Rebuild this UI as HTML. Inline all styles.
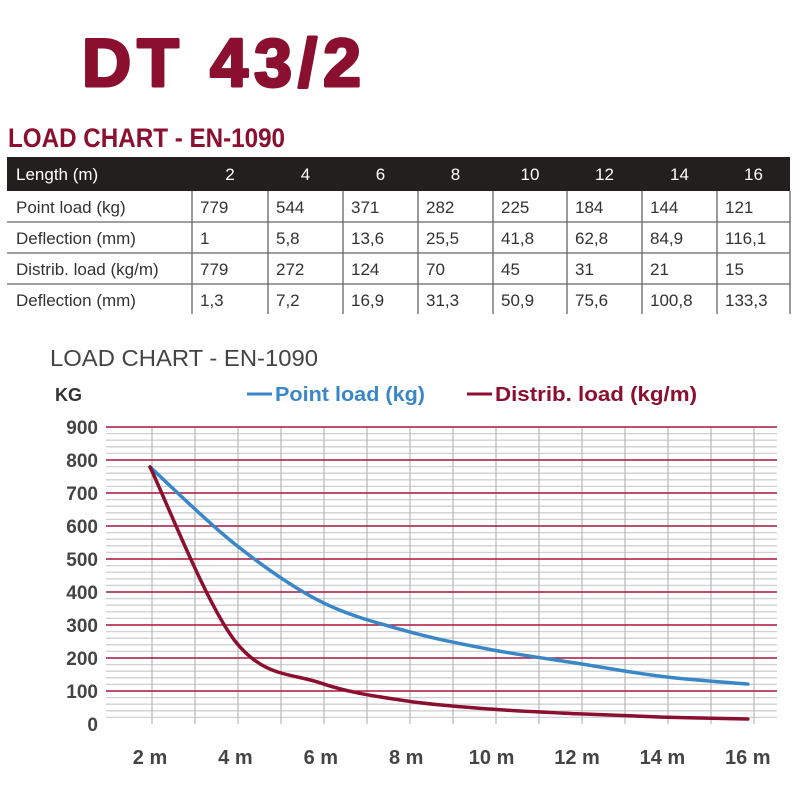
<!DOCTYPE html>
<html><head><meta charset="utf-8"><style>
html,body{margin:0;padding:0;background:#fff}
svg{display:block}
text{font-family:"Liberation Sans",sans-serif}
</style></head><body>
<svg id="s" width="800" height="800" viewBox="0 0 800 800" xmlns="http://www.w3.org/2000/svg">
<rect width="800" height="800" fill="#fff"/>
<text x="82" y="86" font-size="68" font-weight="bold" fill="#8b0f2e" stroke="#8b0f2e" stroke-width="3" stroke-linejoin="round" textLength="279" lengthAdjust="spacing">DT 43/2</text>
<text x="8" y="147" font-size="27" font-weight="bold" fill="#8b0f2e" textLength="277" lengthAdjust="spacingAndGlyphs">LOAD CHART - EN-1090</text>
<rect x="7" y="157" width="783" height="34" fill="#231f1e"/>
<g id="tbl"></g>
<text x="50" y="366" font-size="23" fill="#444" textLength="268" lengthAdjust="spacingAndGlyphs">LOAD CHART - EN-1090</text>
<text x="55" y="401" font-size="18" font-weight="bold" fill="#333">KG</text>
<line x1="247" y1="394" x2="272" y2="394" stroke="#3a87c8" stroke-width="3"/>
<text x="275" y="401" font-size="20" font-weight="bold" fill="#3a87c8" textLength="150" lengthAdjust="spacingAndGlyphs">Point load (kg)</text>
<line x1="467" y1="394" x2="492" y2="394" stroke="#8b0f2e" stroke-width="3"/>
<text x="495" y="401" font-size="20" font-weight="bold" fill="#8b0f2e" textLength="202" lengthAdjust="spacingAndGlyphs">Distrib. load (kg/m)</text>
<g id="grid"></g>
<path id="pb" fill="none" stroke="#3a87c8" stroke-width="3.5" stroke-linecap="round"/>
<path id="pr" fill="none" stroke="#8b0f2e" stroke-width="3.5" stroke-linecap="round"/>
</svg>
<script>
var NS="http://www.w3.org/2000/svg";
function el(p,t,a,txt){var e=document.createElementNS(NS,t);for(var k in a)e.setAttribute(k,a[k]);if(txt!=null)e.textContent=txt;p.appendChild(e);return e;}
var tb=document.getElementById("tbl");
var cols=[7,192,268,343,418,493,567,642,717,790];
var hdr=["Length (m)","2","4","6","8","10","12","14","16"];
el(tb,"text",{x:16,y:180,"font-size":17,fill:"#fff"},hdr[0]);
for(var i=1;i<9;i++)el(tb,"text",{x:(cols[i]+cols[i+1])/2,y:180,"font-size":17,fill:"#fff","text-anchor":"middle"},hdr[i]);
var rows=[["Point load (kg)","779","544","371","282","225","184","144","121"],
["Deflection (mm)","1","5,8","13,6","25,5","41,8","62,8","84,9","116,1"],
["Distrib. load (kg/m)","779","272","124","70","45","31","21","15"],
["Deflection (mm)","1,3","7,2","16,9","31,3","50,9","75,6","100,8","133,3"]];
var ry=[191,222,253,284,314];
for(var r=0;r<4;r++){
 var by=ry[r]+22;
 el(tb,"text",{x:16,y:by,"font-size":17,fill:"#333"},rows[r][0]);
 for(var c=1;c<9;c++)el(tb,"text",{x:cols[c]+8,y:by,"font-size":17,fill:"#333"},rows[r][c]);
 if(r<3)el(tb,"line",{x1:7,x2:790,y1:ry[r+1],y2:ry[r+1],stroke:"#666","stroke-width":1.3});
}
for(var c=1;c<10;c++)el(tb,"line",{x1:cols[c],x2:cols[c],y1:191,y2:314,stroke:"#666","stroke-width":1.3});
var g=document.getElementById("grid");
function Y(v){return 724-v*0.33;}
for(var v=0;v<=900;v+=20){ if(v%100)el(g,"line",{x1:106,x2:777,y1:Y(v),y2:Y(v),stroke:"#d0d0d0","stroke-width":1.3});}
for(var k=0;k<15;k++){var x=152+43*k;el(g,"line",{x1:x,x2:x,y1:427,y2:724,stroke:"#b8b8b8","stroke-width":1.2});}
for(var v=100;v<=900;v+=100)el(g,"line",{x1:106,x2:777,y1:Y(v),y2:Y(v),stroke:"#a8173e","stroke-width":1.6});
for(var v=0;v<=900;v+=100)el(g,"text",{x:98,y:Y(v)+7,"font-size":19,"font-weight":"bold",fill:"#444","text-anchor":"end"},String(v));
var xl=["2 m","4 m","6 m","8 m","10 m","12 m","14 m","16 m"];
for(var i=0;i<8;i++)el(g,"text",{x:150+85.4*i,y:764,"font-size":20,"font-weight":"bold",fill:"#444","text-anchor":"middle"},xl[i]);
function X(m){return 150+(m-2)*42.7;}
function path(vals){
 var pts=vals.map(function(v,i){return [X(2+2*i),Y(v)];});
 var d="M"+pts[0][0]+","+pts[0][1];
 for(var i=0;i<pts.length-1;i++){
  var p0=pts[Math.max(0,i-1)],p1=pts[i],p2=pts[i+1],p3=pts[Math.min(pts.length-1,i+2)];
  var c1=[p1[0]+(p2[0]-p0[0])/6,p1[1]+(p2[1]-p0[1])/6],c2=[p2[0]-(p3[0]-p1[0])/6,p2[1]-(p3[1]-p1[1])/6];
  d+=" C"+c1+" "+c2+" "+p2;
 }
 return d;
}
document.getElementById("pb").setAttribute("d",path([779,544,371,282,225,184,144,121]));
document.getElementById("pr").setAttribute("d",path([779,250,124,70,45,31,21,15]));
</script>
</body></html>
